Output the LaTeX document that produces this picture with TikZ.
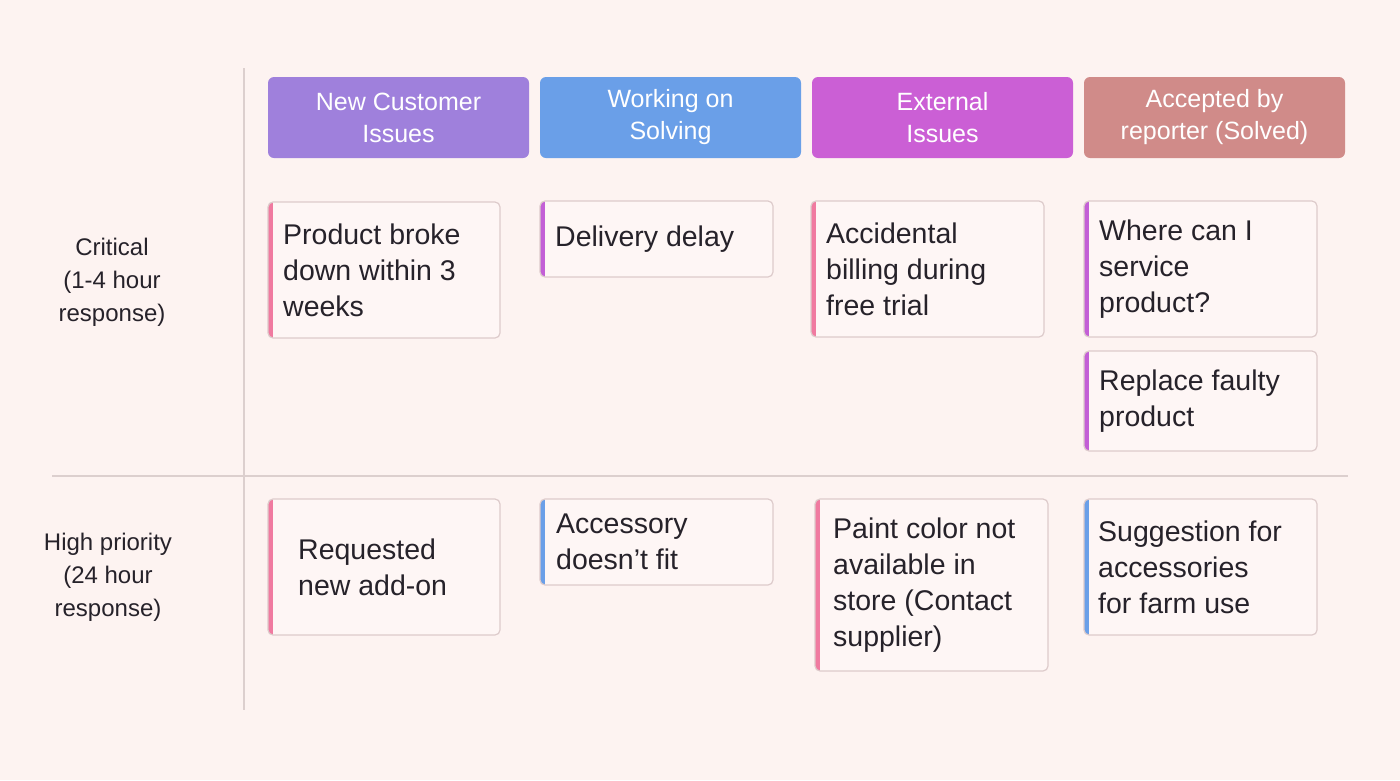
\documentclass[tikz,border=0pt]{standalone}
\usepackage{fontspec}
\setmainfont{Liberation Sans}
\usetikzlibrary{calc}
\definecolor{bgpink}{HTML}{FDF3F1}
\definecolor{gridline}{HTML}{DCCFCE}
\definecolor{cardedge}{HTML}{DDCBCB}
\definecolor{cardfill}{HTML}{FEF6F5}
\definecolor{hdrpurple}{HTML}{9F80DC}
\definecolor{hdrblue}{HTML}{6A9FE8}
\definecolor{hdrmagenta}{HTML}{CB5FD5}
\definecolor{hdrrose}{HTML}{D08B89}
\definecolor{tagpink}{HTML}{F07AA0}
\definecolor{tagmagenta}{HTML}{C35FD6}
\definecolor{tagblue}{HTML}{6A9FE8}
\definecolor{inkdark}{HTML}{26222A}
\tikzset{
  header/.style={rounded corners=6pt,minimum width=261pt,minimum height=81pt,
    inner sep=0pt,text=white,align=center,font=\fontsize{25}{32}\selectfont},
  cardbox/.style={draw=cardedge,line width=1.2pt,fill=cardfill,rounded corners=5pt},
  cardtext/.style={anchor=west,align=left,inner sep=0pt,text=inkdark,
    font=\fontsize{28.5}{36}\selectfont},
  rowlabel/.style={align=center,inner sep=0pt,text=inkdark,
    font=\fontsize{24}{33}\selectfont}
}
\begin{document}
\begin{tikzpicture}[x=1pt,y=-1pt]
  \fill[bgpink] (0,0) rectangle (1400,780);
  \useasboundingbox (0,0) rectangle (1400,780);

  %% grid lines
  \coordinate (VT) at (244,68);
  \coordinate (VB) at (244,710);
  \coordinate (HL) at (52,476);
  \coordinate (HR) at (1348,476);
  \draw[gridline,line width=1.5pt] (VT) -- (VB);
  \draw[gridline,line width=1.5pt] (HL) -- (HR);

  %% column headers
  \foreach \n/\x/\c/\t in {new/398.5/hdrpurple/{New Customer\\Issues},
                          work/670.5/hdrblue/{Working on\\Solving},
                          ext/942.5/hdrmagenta/{External\\Issues},
                          acc/1214.5/hdrrose/{Accepted by\\reporter (Solved)}}
  {
    \node[header,fill=\c] (H\n) at (\x,117.5) {\t};
  }

  %% row labels
  \node[rowlabel] (critical) at (112,282) {Critical\\(1-4 hour\\response)};
  \node[rowlabel] (high) at (108,577) {High priority\\(24 hour\\response)};

  %% cards
  \foreach \n/\x/\y/\w/\h/\c/\d/\t in {
      broke/268/202/232/136/tagpink/15/{Product broke\\down within 3\\weeks},
      delay/540/201/233/76/tagmagenta/15/{Delivery delay},
      billing/811/201/233/136/tagpink/15/{Accidental\\billing during\\free trial},
      service/1084/201/233/136/tagmagenta/15/{Where can I\\service\\product?},
      faulty/1084/351/233/100/tagmagenta/15/{Replace faulty\\product},
      addon/268/499/232/136/tagpink/30/{Requested\\new add-on},
      accessory/540/499/233/86/tagblue/16/{Accessory\\doesn’t fit},
      paint/815/499/233/172/tagpink/18/{Paint color not\\available in\\store (Contact\\supplier)},
      farm/1084/499/233/136/tagblue/14/{Suggestion for\\accessories\\for farm use}}
  {
    \begin{scope}
      \clip[rounded corners=5pt] (\x,\y) rectangle ++(\w,\h);
      \fill[cardfill] (\x,\y) rectangle ++(\w,\h);
      \fill[\c] (\x,\y) rectangle ++(4.5,\h);
    \end{scope}
    \draw[cardbox,fill=none] (\x,\y) rectangle ++(\w,\h);
    \node[cardtext] (C\n) at ($(\x,\y)+(\d,\h/2)$) {\t};
  }
\end{tikzpicture}
\end{document}
